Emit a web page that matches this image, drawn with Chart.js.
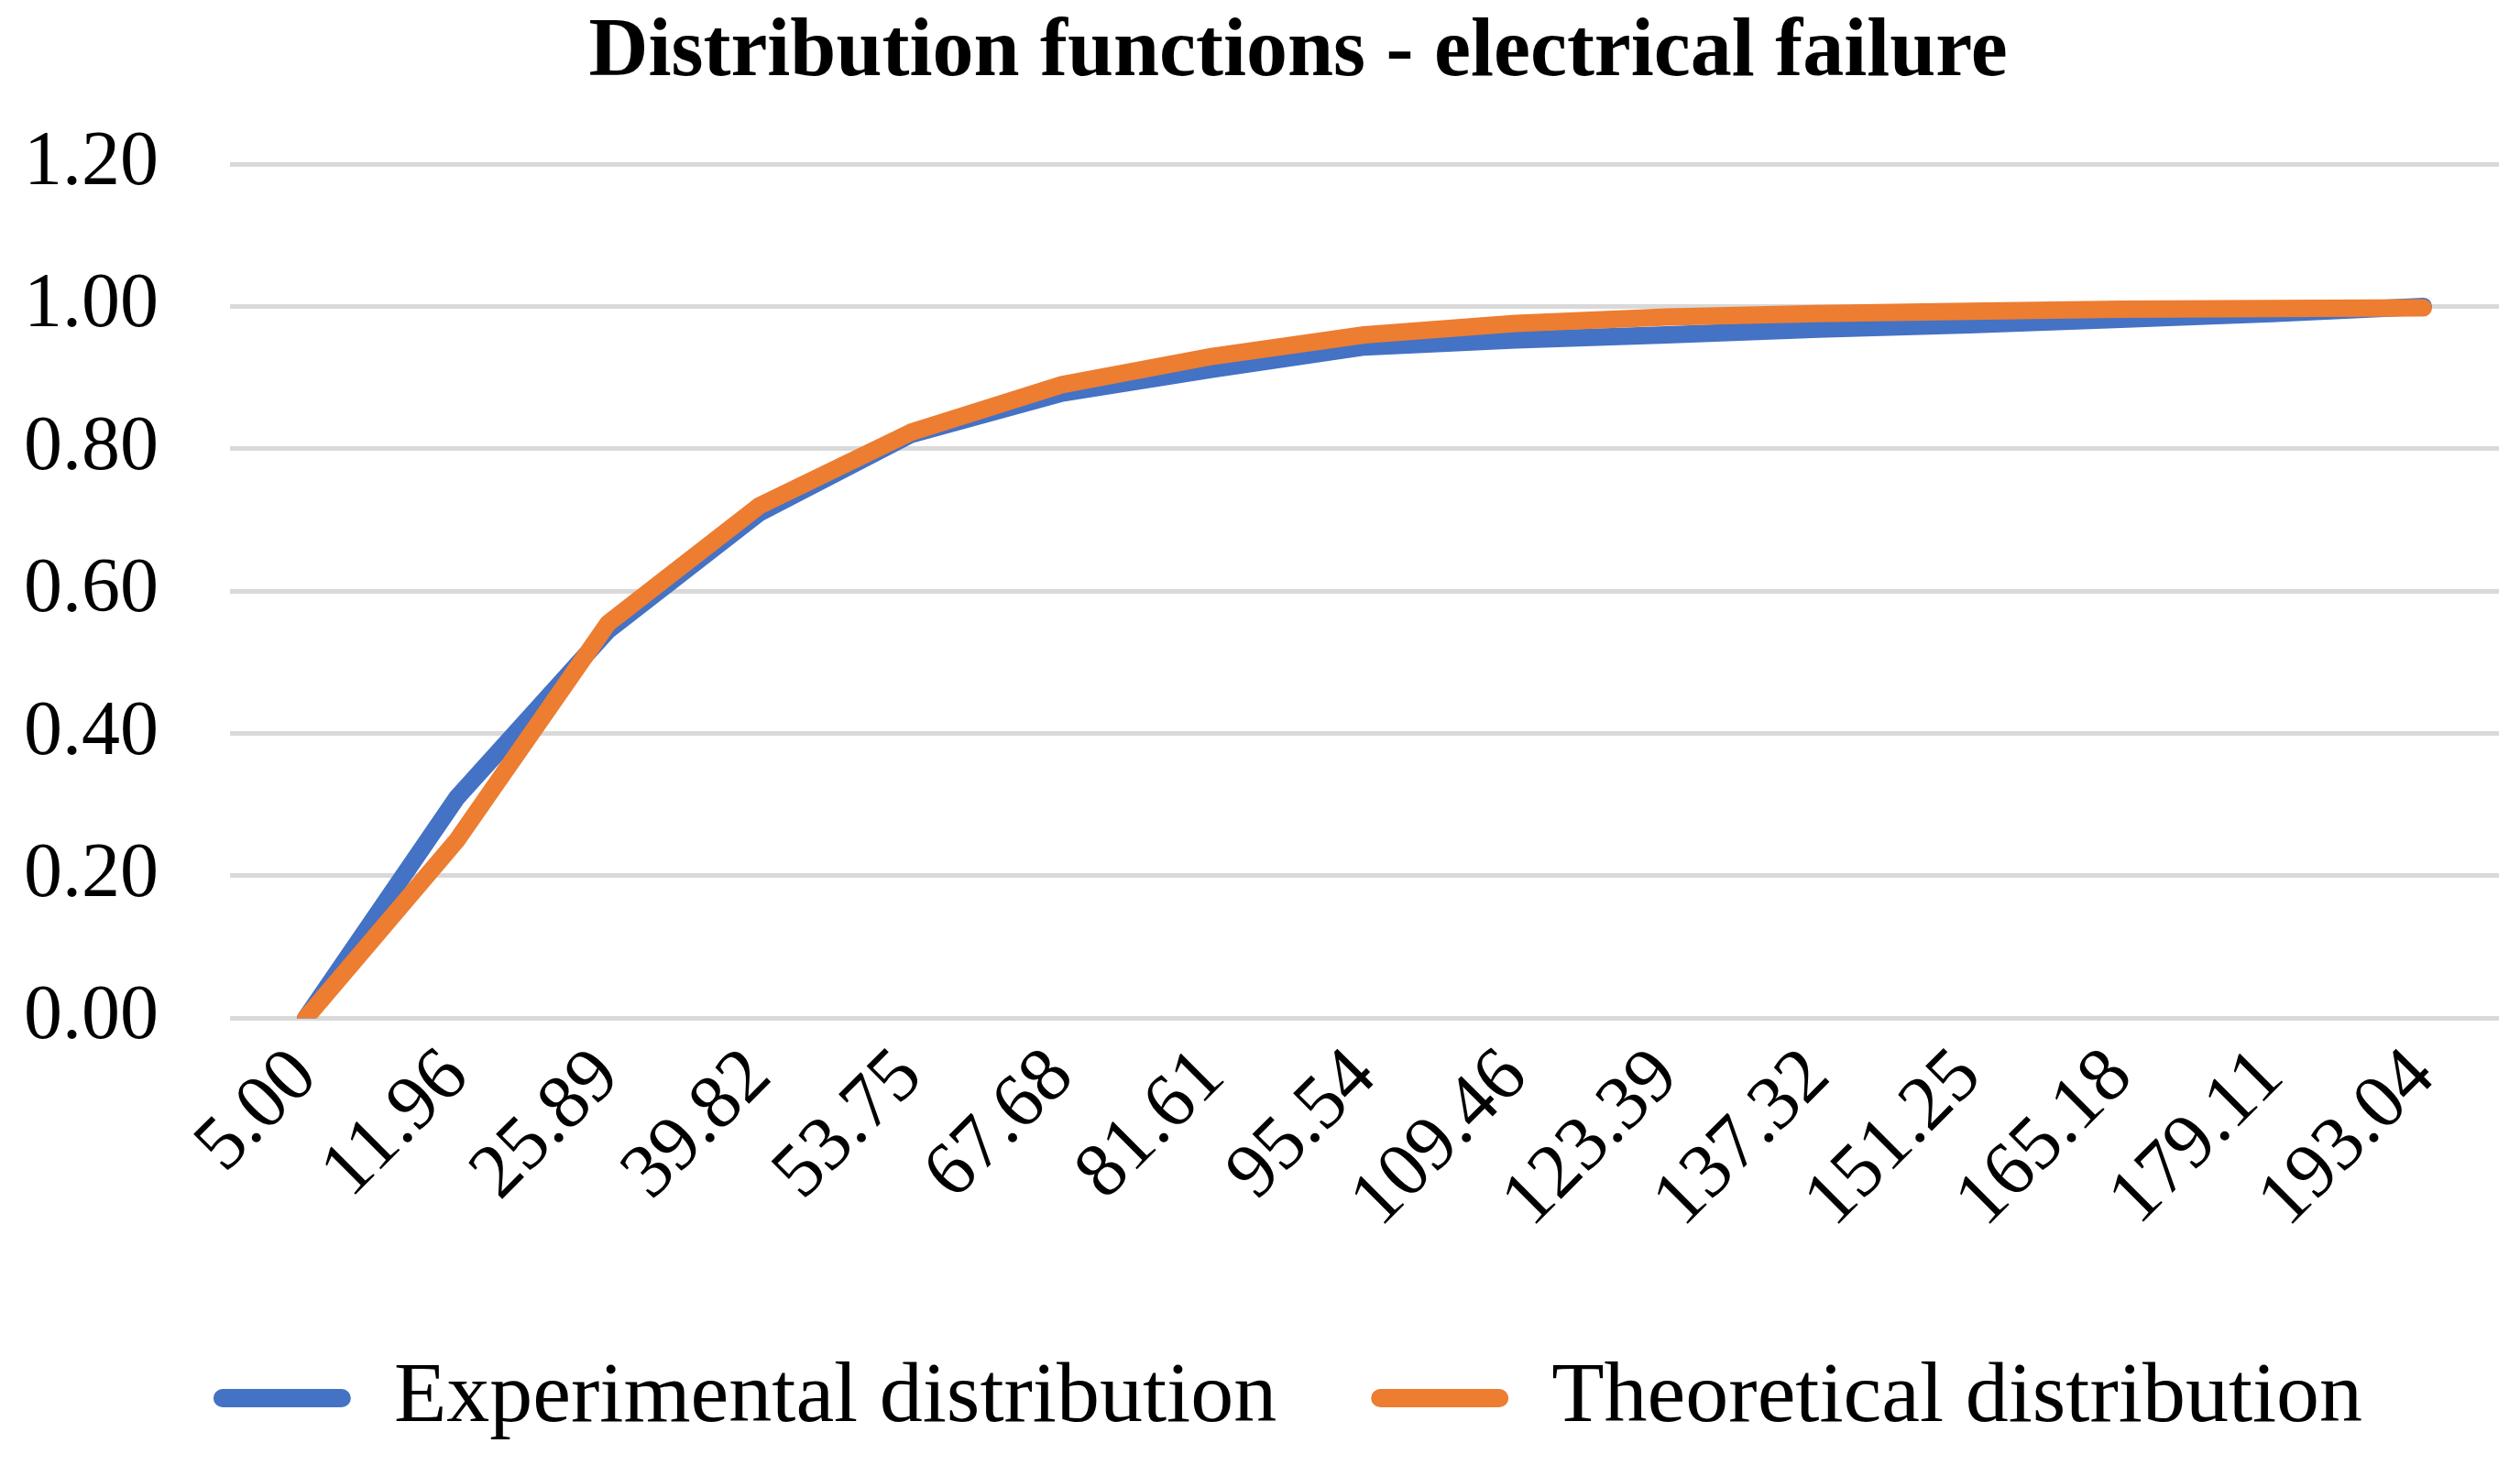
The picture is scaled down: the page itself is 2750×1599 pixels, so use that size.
<!DOCTYPE html>
<html>
<head>
<meta charset="utf-8">
<script src="https://cdn.jsdelivr.net/npm/chart.js@4.4.0/dist/chart.umd.min.js"></script>
<style>
  html, body { margin: 0; padding: 0; background: #ffffff; }
  #wrap { width: 2750px; height: 1599px; }
</style>
</head>
<body>
<div id="wrap"><canvas id="c" width="2750" height="1599"></canvas></div>
<script>
const categories = ['5.00','11.96','25.89','39.82','53.75','67.68','81.61','95.54','109.46','123.39','137.32','151.25','165.18','179.11','193.04'];
const experimental = [0, 0.31, 0.545, 0.71, 0.82, 0.878, 0.912, 0.943, 0.953, 0.96, 0.968, 0.974, 0.982, 0.99, 1.0];
const theoretical = [0, 0.25, 0.555, 0.72, 0.823, 0.89, 0.93, 0.96, 0.976, 0.985, 0.99, 0.993, 0.996, 0.997, 0.998];
const seriesNames = ['Experimental distribution', 'Theoretical distribution'];
const titleText = 'Distribution functions - electrical failure';

const FONT = "'Liberation Serif', 'DejaVu Serif', serif";
const BLUE = '#4472C4';
const ORANGE = '#ED7D31';

// shift title and legend blocks slightly right, as in the reference layout
const shiftBlocks = {
  id: 'shiftBlocks',
  afterLayout(chart) {
    if (chart.titleBlock) { chart.titleBlock.left += 40; chart.titleBlock.right += 40; }
    if (chart.legend) { chart.legend.left += 29; chart.legend.right += 29; }
  }
};

new Chart(document.getElementById('c'), {
  type: 'line',
  data: {
    labels: categories,
    datasets: [
      { label: seriesNames[0], data: experimental, borderColor: BLUE, backgroundColor: BLUE,
        borderWidth: 19, pointRadius: 0, tension: 0, order: 2,
        borderJoinStyle: 'round', borderCapStyle: 'round' },
      { label: seriesNames[1], data: theoretical, borderColor: ORANGE, backgroundColor: ORANGE,
        borderWidth: 19, pointRadius: 0, tension: 0, order: 1,
        borderJoinStyle: 'round', borderCapStyle: 'round' }
    ]
  },
  plugins: [shiftBlocks],
  options: {
    responsive: false,
    animation: false,
    devicePixelRatio: 1,
    layout: { padding: { left: 26, right: 23, top: 5, bottom: 16 } },
    plugins: {
      title: {
        display: true, text: titleText, color: '#000',
        font: { family: FONT, size: 90, weight: 'bold' },
        padding: { top: 0, bottom: 66 }
      },
      legend: {
        position: 'bottom',
        labels: {
          color: '#000',
          font: { family: FONT, size: 94 },
          boxWidth: 150, boxHeight: 20,
          useBorderRadius: true, borderRadius: 10,
          padding: 103,
          sort: (a, b) => a.datasetIndex - b.datasetIndex,
          generateLabels: (chart) => chart.data.datasets.map((ds, i) => ({
            text: ds.label, fillStyle: ds.borderColor, strokeStyle: ds.borderColor,
            lineWidth: 0, hidden: false, datasetIndex: i, fontColor: '#000', borderRadius: 10
          }))
        }
      },
      tooltip: { enabled: false }
    },
    scales: {
      x: {
        offset: true,
        grid: { display: false, drawTicks: false },
        border: { display: false },
        ticks: { color: '#000', font: { family: FONT, size: 84 }, minRotation: 45, maxRotation: 45, padding: 15, autoSkip: false },
        afterFit: (scale) => { scale.paddingLeft = 0; scale.paddingRight = 0; }
      },
      y: {
        min: 0, max: 1.2,
        grid: { color: '#d9d9d9', lineWidth: 5, drawTicks: false },
        border: { display: false },
        ticks: { color: '#000', font: { family: FONT, size: 84 }, stepSize: 0.2, padding: 78,
          callback: (v) => Number(v).toFixed(2) },
        afterFit: (scale) => { scale.width = 225; }
      }
    }
  }
});
</script>
</body>
</html>
